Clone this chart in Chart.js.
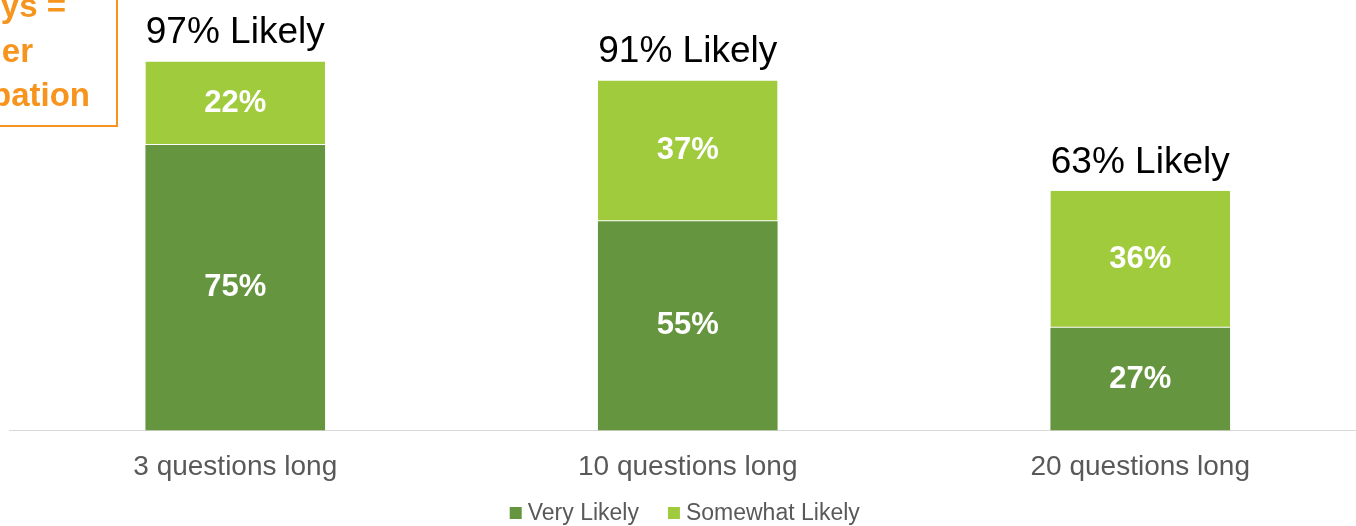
<!DOCTYPE html>
<html>
<head>
<meta charset="utf-8">
<script src="https://cdn.jsdelivr.net/npm/chart.js@4/dist/chart.umd.min.js"></script>
<style>
  html, body { margin: 0; padding: 0; background: #fff; overflow: hidden; }
  #wrap { position: relative; width: 1368px; height: 526px; }
</style>
</head>
<body>
<div id="wrap"><canvas id="c"></canvas></div>
<script>
// Survey length vs. likelihood to respond
const categories = ["3 questions long", "10 questions long", "20 questions long"];
const veryLikely = [75, 55, 27];
const somewhatLikely = [22, 37, 36];
const totalLikely = [97, 91, 63];
const seriesNames = ["Very Likely", "Somewhat Likely"];
const calloutLines = ["Shorter surveys =", "higher", "participation"];

const FONT = "'Liberation Sans', Arial, sans-serif";
const DARK_GREEN = "#66953f";
const LIGHT_GREEN = "#9fcb3c";
const ORANGE = "#f7941d";

// Values inside each bar segment and the total above each bar
const labelPlugin = {
  id: "barLabels",
  afterDatasetsDraw(chart) {
    const ctx = chart.ctx;
    ctx.save();
    ctx.textAlign = "center";
    ctx.textBaseline = "middle";
    ctx.fillStyle = "#ffffff";
    ctx.font = "bold 31px " + FONT;
    chart.data.datasets.forEach((ds, di) => {
      chart.getDatasetMeta(di).data.forEach((bar, i) => {
        ctx.fillText(ds.data[i] + "%", bar.x, (bar.y + bar.base) / 2);
      });
    });
    const topMeta = chart.getDatasetMeta(chart.data.datasets.length - 1);
    ctx.fillStyle = "#000000";
    ctx.font = "37px " + FONT;
    ctx.textBaseline = "alphabetic";
    topMeta.data.forEach((bar, i) => {
      ctx.fillText(totalLikely[i] + "% Likely", bar.x, bar.y - 18);
    });
    ctx.restore();
  }
};

// Compact legend row under the axis labels
const legendPlugin = {
  id: "compactLegend",
  afterDraw(chart) {
    const ctx = chart.ctx;
    const box = 12, gap = 6, spacing = 29, y = 513;
    ctx.save();
    ctx.font = "23px " + FONT;
    const widths = chart.data.datasets.map(ds => ctx.measureText(ds.label).width);
    let total = 0;
    widths.forEach((w, i) => { total += box + gap + w + (i ? spacing : 0); });
    let x = (chart.chartArea.left + chart.chartArea.right) / 2 - 3 - total / 2;
    ctx.textBaseline = "middle";
    ctx.textAlign = "left";
    chart.data.datasets.forEach((ds, i) => {
      ctx.fillStyle = ds.backgroundColor;
      ctx.fillRect(x, y - box / 2, box, box);
      ctx.fillStyle = "#595959";
      ctx.fillText(ds.label, x + box + gap, y + 1);
      x += box + gap + widths[i] + spacing;
    });
    ctx.restore();
  }
};

// Orange callout box in the top-left corner
const calloutPlugin = {
  id: "callout",
  afterDraw(chart) {
    const ctx = chart.ctx;
    ctx.save();
    ctx.strokeStyle = ORANGE;
    ctx.lineWidth = 2;
    ctx.strokeRect(-200, -20, 317, 146);
    ctx.fillStyle = ORANGE;
    ctx.font = "bold 33px " + FONT;
    ctx.textAlign = "right";
    ctx.textBaseline = "alphabetic";
    const ends = [66, 33, 90];
    const bases = [17, 62, 106];
    calloutLines.forEach((t, i) => ctx.fillText(t, ends[i], bases[i]));
    ctx.restore();
  }
};

new Chart(document.getElementById("c"), {
  type: "bar",
  data: {
    labels: categories,
    datasets: [
      {
        label: seriesNames[0],
        data: veryLikely,
        backgroundColor: DARK_GREEN,
        borderColor: "rgba(255,255,255,0.4)",
        borderWidth: 0
      },
      {
        label: seriesNames[1],
        data: somewhatLikely,
        backgroundColor: LIGHT_GREEN,
        borderColor: "rgba(255,255,255,0.4)",
        borderWidth: { bottom: 1, top: 0, left: 0, right: 0 },
        borderSkipped: false
      }
    ]
  },
  options: {
    responsive: true,
    maintainAspectRatio: false,
    animation: false,
    devicePixelRatio: 1,
    layout: { padding: { left: 9, right: 1.5, top: 50, bottom: 22 } },
    datasets: { bar: { barPercentage: 0.397, categoryPercentage: 1 } },
    scales: {
      x: {
        stacked: true,
        grid: { display: false, drawTicks: false },
        border: { display: true, color: "#d9d9d9", width: 1 },
        ticks: {
          color: "#595959",
          font: { family: FONT, size: 28 },
          padding: 20
        }
      },
      y: {
        stacked: true,
        display: false,
        min: 0,
        max: 100
      }
    },
    plugins: {
      legend: { display: false },
      tooltip: { enabled: false }
    }
  },
  plugins: [labelPlugin, legendPlugin, calloutPlugin]
});
</script>
</body>
</html>
